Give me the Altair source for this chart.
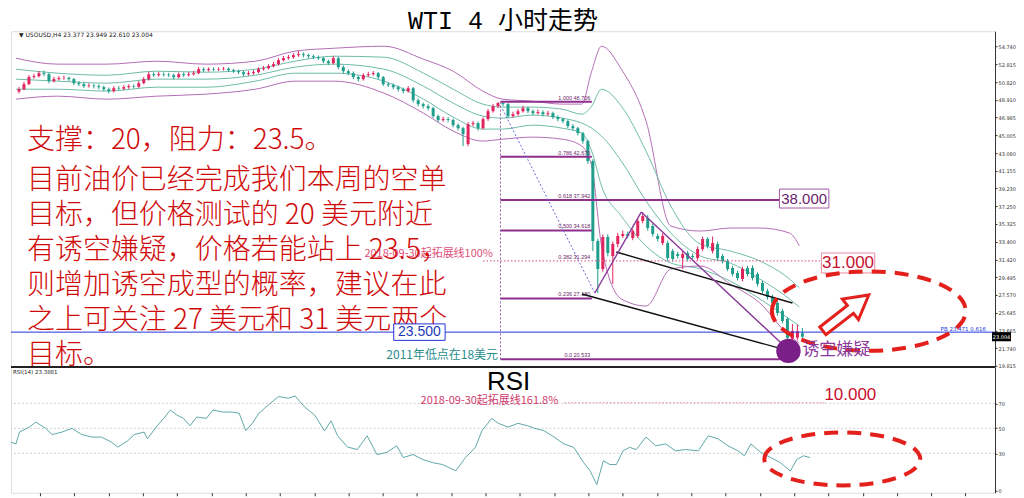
import altair as alt
import pandas as pd

# ---------------- data ----------------
opens = [49.80, 50.06, 50.61, 51.38, 51.48, 51.81, 51.70, 50.94, 51.16, 51.27,
         51.30, 51.16, 50.72, 50.61, 50.39, 50.45, 50.39, 50.28, 50.06, 49.85,
         50.17, 50.12, 50.28, 50.39, 50.33, 50.72, 51.16, 51.70, 51.59, 51.70,
         51.65, 51.59, 51.38, 51.70, 51.59, 51.70, 51.81, 52.25, 52.14, 52.25,
         52.20, 52.25, 52.30, 52.14, 52.03, 51.92, 51.70, 51.81, 51.92, 52.25,
         52.36, 52.58, 52.80, 53.23, 53.45, 53.56, 53.78, 53.89, 53.78, 53.67,
         53.56, 53.45, 53.12, 52.91, 53.45, 52.47, 52.03, 51.81, 51.38, 51.16,
         51.59, 51.70, 51.81, 51.38, 50.61, 50.50, 50.28, 50.06, 49.85, 50.17,
         48.86, 48.43, 48.21, 47.99, 47.12, 46.68, 46.79, 46.70, 46.13, 45.80,
         44.06, 46.24, 46.35, 45.80, 46.79, 47.66, 48.21, 48.54, 48.43, 47.12,
         47.33, 47.66, 47.99, 47.66, 47.44, 47.55, 47.33, 47.44, 47.01, 46.79,
         46.57, 46.02, 45.80, 45.26, 44.39, 42.20, 33.46, 30.40, 33.90, 31.82,
         33.13, 34.01, 34.23, 33.79, 34.01, 35.65, 35.97, 35.10, 34.01, 33.24,
         33.24, 32.37, 32.04, 31.60, 32.15, 31.82, 31.60, 32.59, 33.68, 32.37,
         33.13, 31.82, 31.28, 30.51, 29.97, 29.31, 30.51, 30.51, 29.86, 28.87,
         28.00, 27.34, 26.69, 25.82, 24.94, 22.76, 22.90, 23.38]
closes = [50.06, 50.61, 51.38, 51.48, 51.81, 51.70, 50.94, 51.16, 51.27, 51.30,
          51.16, 50.72, 50.61, 50.39, 50.45, 50.39, 50.28, 50.06, 49.85, 50.17,
          50.12, 50.28, 50.39, 50.33, 50.72, 51.16, 51.70, 51.59, 51.70, 51.65,
          51.59, 51.38, 51.70, 51.59, 51.70, 51.81, 52.25, 52.14, 52.25, 52.20,
          52.25, 52.30, 52.14, 52.03, 51.92, 51.70, 51.81, 51.92, 52.25, 52.36,
          52.58, 52.80, 53.23, 53.45, 53.56, 53.78, 53.89, 53.78, 53.67, 53.56,
          53.45, 53.12, 52.91, 53.45, 52.47, 52.03, 51.81, 51.38, 51.16, 51.59,
          51.70, 51.81, 51.38, 50.61, 50.50, 50.28, 50.06, 49.85, 50.17, 48.86,
          48.43, 48.21, 47.99, 47.12, 46.68, 46.79, 46.70, 46.13, 45.80, 45.15,
          46.24, 46.35, 45.80, 46.79, 47.66, 48.21, 48.54, 48.43, 47.12, 47.33,
          47.66, 47.99, 47.66, 47.44, 47.55, 47.33, 47.44, 47.01, 46.79, 46.57,
          46.02, 45.80, 45.26, 44.39, 42.20, 33.46, 30.40, 33.90, 32.15, 33.13,
          34.01, 34.23, 34.01, 34.55, 35.65, 36.19, 34.88, 34.23, 33.68, 34.01,
          31.60, 31.50, 31.82, 32.04, 31.50, 31.71, 32.59, 33.68, 32.92, 33.24,
          31.60, 31.28, 30.40, 29.86, 29.42, 30.40, 29.86, 29.42, 28.77, 28.00,
          27.34, 26.69, 25.60, 24.72, 22.87, 23.63, 23.60, 23.00]
highs = [50.30, 50.85, 51.60, 51.75, 52.05, 52.10, 51.85, 51.40, 51.50, 51.55,
         51.45, 51.30, 50.95, 50.80, 50.70, 50.65, 50.60, 50.45, 50.25, 50.40,
         50.40, 50.50, 50.60, 50.60, 50.95, 51.40, 51.95, 51.90, 51.95, 51.90,
         51.85, 51.75, 51.90, 51.90, 51.95, 52.05, 52.50, 52.45, 52.45, 52.45,
         52.45, 52.50, 52.45, 52.30, 52.20, 52.05, 52.05, 52.15, 52.45, 52.60,
         52.80, 53.05, 53.45, 53.70, 53.80, 54.00, 54.25, 54.10, 53.95, 53.85,
         53.75, 53.60, 53.30, 53.70, 53.60, 52.65, 52.20, 52.00, 51.55, 51.80,
         51.95, 52.05, 51.95, 51.50, 50.80, 50.70, 50.45, 50.25, 50.40, 50.30,
         49.05, 48.60, 48.40, 48.15, 47.30, 47.05, 47.00, 46.85, 46.30, 45.95,
         46.45, 46.60, 46.50, 47.00, 47.90, 48.45, 48.68, 48.70, 48.55, 47.60,
         47.90, 48.25, 48.15, 47.85, 47.85, 47.75, 47.70, 47.60, 47.20, 46.95,
         46.70, 46.25, 45.95, 45.40, 44.55, 42.40, 33.70, 34.20, 34.20, 33.40,
         34.35, 34.60, 34.50, 34.80, 35.90, 36.63, 36.30, 35.35, 34.25, 34.30,
         33.50, 32.60, 32.30, 32.35, 32.40, 32.10, 32.85, 33.95, 33.90, 33.95,
         33.40, 32.05, 31.50, 30.75, 30.20, 30.65, 30.75, 30.80, 30.05, 29.10,
         28.25, 27.60, 26.90, 26.05, 25.15, 24.40, 24.30, 23.95]
lows = [49.60, 49.95, 50.50, 51.20, 51.35, 51.50, 50.70, 50.80, 51.00, 51.10,
        50.95, 50.50, 50.40, 50.20, 50.25, 50.15, 50.05, 49.85, 49.60, 49.70,
        49.95, 49.95, 50.10, 50.15, 50.20, 50.60, 51.00, 51.40, 51.45, 51.45,
        51.40, 51.15, 51.25, 51.40, 51.45, 51.55, 51.70, 51.95, 52.00, 52.05,
        52.05, 52.10, 51.95, 51.85, 51.70, 51.45, 51.55, 51.65, 51.80, 52.10,
        52.20, 52.45, 52.65, 53.10, 53.30, 53.40, 53.60, 53.55, 53.45, 53.35,
        53.25, 52.90, 52.70, 52.75, 52.25, 51.80, 51.60, 51.15, 50.90, 51.00,
        51.40, 51.55, 51.15, 50.40, 50.30, 50.05, 49.80, 49.60, 49.70, 48.60,
        48.20, 47.95, 47.75, 46.90, 46.45, 46.50, 46.45, 45.90, 45.55, 43.84,
        43.84, 46.00, 45.55, 45.65, 46.60, 47.50, 48.00, 48.20, 46.90, 46.95,
        47.15, 47.50, 47.45, 47.20, 47.30, 47.10, 47.15, 46.80, 46.55, 46.35,
        45.80, 45.55, 45.00, 44.10, 41.90, 32.37, 27.78, 30.10, 31.80, 28.77,
        32.80, 33.80, 33.75, 33.55, 33.80, 35.40, 34.60, 33.95, 33.40, 33.00,
        31.30, 31.20, 31.55, 30.40, 31.25, 31.45, 31.35, 32.35, 32.65, 32.10,
        31.30, 31.00, 30.15, 29.60, 29.15, 29.05, 29.60, 29.15, 28.50, 27.75,
        27.05, 26.40, 25.30, 24.45, 20.60, 21.45, 22.60, 22.61]

# Bollinger / envelope bands read at knots (bar index)
band_idx = [-0.6, 7.73, 17.64, 27.55, 37.46, 47.37, 55.30, 63.23, 73.14, 81.07,
            87.02, 92.96, 96.93, 102.87, 108.82, 112.78, 114.77, 116.75, 120.71,
            125.67, 130.63, 136.57, 142.52, 148.46, 154.41, 156.39]
bb_upper = [53.45, 52.80, 52.80, 53.12, 52.80, 53.12, 54.22, 54.54, 54.76, 53.34,
            52.03, 49.85, 48.97, 48.75, 48.43, 48.43, 52.03, 54.76, 52.25, 46.57,
            35.10, 34.55, 34.88, 34.88, 34.34, 32.92]
env_upper = [52.25, 51.81, 51.59, 52.03, 51.92, 52.25, 53.12, 53.67, 53.56, 51.81,
             50.06, 48.43, 48.10, 48.10, 47.88, 47.33, 48.21, 50.06, 48.21, 43.29,
             37.28, 33.13, 32.37, 31.28, 29.31, 28.33]
mid_line = [51.16, 50.94, 50.72, 51.16, 51.16, 51.59, 52.47, 52.80, 52.25, 50.39,
            48.54, 47.12, 46.90, 47.23, 46.90, 46.35, 45.80, 44.93, 42.20, 37.83,
            34.34, 31.82, 31.06, 29.31, 27.13, 26.25]
env_lower = [50.06, 50.06, 49.85, 50.28, 50.28, 50.94, 51.81, 51.81, 50.94, 48.97,
             47.01, 45.70, 45.70, 46.13, 45.80, 45.26, 43.29, 39.47, 36.19, 32.92,
             31.06, 30.40, 29.09, 27.13, 24.94, 24.18]
bb_lower = [48.97, 49.30, 48.97, 49.30, 49.52, 50.06, 50.94, 50.94, 49.63, 47.44,
            45.48, 44.39, 44.60, 44.82, 44.60, 43.84, 41.65, 32.92, 27.13, 26.36,
            30.40, 30.73, 28.77, 26.69, 23.08, 22.32]

rsi_idx = [-0.6, 0.4, 1.07, 3.03, 4.33, 6.28, 7.58, 9.53, 11.48, 13.44,
           15.39, 17.34, 19.29, 20.59, 22.55, 23.85, 25.80, 26.45, 28.40, 29.70,
           31.01, 32.31, 33.61, 34.91, 36.21, 38.16, 39.46, 41.42, 43.37, 44.67,
           45.97, 47.27, 48.57, 50.53, 52.48, 54.43, 55.73, 57.68, 59.64, 61.59,
           62.89, 64.19, 66.14, 68.10, 70.05, 72.00, 73.95, 75.90, 77.21, 79.16,
           81.11, 83.06, 85.01, 87.62, 89.57, 91.52, 92.82, 94.77, 96.08, 98.03,
           99.98, 101.93, 103.23, 105.19, 107.14, 109.09, 111.04, 113.00, 114.30, 115.60,
           116.90, 118.20, 119.50, 120.80, 122.11, 123.41, 125.36, 127.31, 129.26, 131.21,
           133.17, 135.77, 137.72, 139.67, 141.62, 143.58, 144.88, 146.18, 148.13, 150.08,
           152.04, 153.99, 155.29, 156.59, 157.89]
rsi_val = [38.9, 37.5, 47, 51, 55, 50, 45, 47, 50, 45,
           43, 43, 39, 35, 40, 45, 47, 41.6, 52, 58,
           64.7, 60.6, 58, 52, 59, 58, 64.7, 63, 63, 62,
           48, 54, 62, 69, 75.5, 74, 76, 67, 60.6, 48,
           56, 44, 35, 33, 44, 29, 30.7, 36, 26.6, 29,
           25, 22.5, 21, 16, 26.6, 34.8, 48, 58, 54, 51,
           54, 52, 50, 48, 43, 37.5, 34.8, 22.5, 15.8, 4.9,
           24, 21, 21, 32, 34.8, 33, 43, 36, 37.5, 32,
           33, 32, 44, 41.6, 36, 32, 28, 37.5, 30.7, 26.6,
           22.5, 15.8, 25, 28, 26.6]

price_ticks = [54.740, 52.815, 50.820, 48.910, 46.985, 45.005, 43.080, 41.155, 39.230,
               37.250, 35.325, 33.400, 31.420, 29.495, 27.570, 25.645, 23.665, 21.740, 19.815]
rsi_ticks = [0, 30, 50, 70, 100]
rsi_levels = [30, 50, 70]

fib_labels = ["1.000  48.706", "0.786  42.670", "0.618  37.942", "0.500  34.618",
              "0.236  27.180", "0.0  20.533"]
fib_price = [48.70, 42.67, 37.942, 34.618, 27.18, 20.533]
fib_end = [114.8, 114.8, 152.4, 114.8, 114.8, 152.6]
fib_start = 96.5

note_lines = ["支撑：20，阻力：23.5。",
              "目前油价已经完成我们本周的空单",
              "目标，但价格测试的 20 美元附近",
              "有诱空嫌疑，价格若能站上 23.5，",
              "则增加诱空成型的概率，建议在此",
              "之上可关注 27 美元和 31 美元两个",
              "目标。"]
note_price = [44.39, 40.02, 36.19, 32.37, 28.55, 24.72, 20.90]

# ---------------- styling ----------------
W = 985
H_MAIN = 336
H_RSI = 126
UP = "#e0245e"
DOWN = "#1f9e8c"
PURPLE = "#8e2f8e"
CJK = "Noto Sans CJK SC"
RED = "#d00a0a"

xs = alt.Scale(domain=[-0.6, 194.6], nice=False, zero=False)
ys = alt.Scale(domain=[19.7, 56.4], nice=False, zero=False)
rs = alt.Scale(domain=[-1.6, 99.2], nice=False, zero=False)

MAIN_YAXIS = alt.Axis(orient="right", values=price_ticks, format=".3f", labelFontSize=5,
                      labelColor="#333", tickSize=2, tickColor="#333", domainColor="#333",
                      grid=False, labelPadding=1, labelFont="DejaVu Sans", title=None)
RSI_YAXIS = alt.Axis(orient="right", values=rsi_ticks, format="d", labelFontSize=5,
                     labelColor="#333", tickSize=2, tickColor="#333", domainColor="#333",
                     grid=False, labelPadding=1, labelFont="DejaVu Sans", title=None)
x_ticks = [5.15 + 6.8 * k for k in range(28)]
RSI_XAXIS = alt.Axis(values=x_ticks, labels=False, ticks=True, tickSize=3, tickColor="#333",
                     domain=False, grid=False, title=None)


def X(f):
    return alt.X(f, type="quantitative", scale=xs, axis=None)


def XR(f):
    return alt.X(f, type="quantitative", scale=xs, axis=RSI_XAXIS)


def Y(f):
    return alt.Y(f, type="quantitative", scale=ys, axis=MAIN_YAXIS)


def R(f):
    return alt.Y(f, type="quantitative", scale=rs, axis=RSI_YAXIS)


candles = pd.DataFrame({"i": list(range(len(closes))), "open": opens, "close": closes,
                        "high": highs, "low": lows})
candle_color = alt.condition("datum.close >= datum.open", alt.value(UP), alt.value(DOWN))

bands = pd.DataFrame({"i": band_idx, "bb_upper": bb_upper, "env_upper": env_upper,
                      "mid": mid_line, "env_lower": env_lower, "bb_lower": bb_lower})
bands_long = bands.melt("i", var_name="band", value_name="price")

band_layer = alt.Chart(bands_long).mark_line(strokeWidth=1, interpolate="monotone").encode(
    x=X("i"), y=Y("price"), detail="band:N",
    color=alt.Color("band:N", legend=None,
                    scale=alt.Scale(domain=["bb_upper", "env_upper", "mid", "env_lower", "bb_lower"],
                                    range=["#b46cb4", "#6dbba9", "#6dbba9", "#6dbba9", "#b46cb4"])),
)

wicks = alt.Chart(candles).mark_rule(strokeWidth=1).encode(
    x=X("i"), y=Y("low"), y2="high:Q", color=candle_color)
bodies = alt.Chart(candles).mark_bar(size=3).encode(
    x=X("i"), y=Y("open"), y2="close:Q", color=candle_color)

fib_df = pd.DataFrame({"x1": [fib_start] * len(fib_price), "x2": fib_end, "y": fib_price,
                       "label": fib_labels, "lx": [114.5] * len(fib_price),
                       "ly": [p + 0.45 for p in fib_price]})
fib_lines = alt.Chart(fib_df).mark_rule(color=PURPLE, strokeWidth=2).encode(
    x=X("x1"), x2="x2:Q", y=Y("y"))
fib_text = alt.Chart(fib_df).mark_text(align="right", fontSize=5.5, color="#6b2a6b").encode(
    x=X("lx"), y=Y("ly"), text="label:N")

ext_df = pd.DataFrame({"x1": [93.0], "x2": [160.5], "y": [31.29]})
ext_line = alt.Chart(ext_df).mark_rule(color="#e26a95", strokeWidth=1.2, strokeDash=[1.5, 2]).encode(
    x=X("x1"), x2="x2:Q", y=Y("y"))
ext_lbl = pd.DataFrame({"x": [114.5], "y": [31.74], "t": ["0.382  31.294"]})
ext_lbl_text = alt.Chart(ext_lbl).mark_text(align="right", fontSize=5.5, color="#6b2a6b").encode(
    x=X("x"), y=Y("y"), text="t:N")

blue_line = alt.Chart(pd.DataFrame({"y": [23.5]})).mark_rule(color="#2233dd", strokeWidth=1).encode(
    y=Y("y"))

seg_df = pd.DataFrame({
    "x1": [112.8, 119.7, 115.4, 124.7],
    "y1": [27.67, 32.26, 27.78, 36.63],
    "x2": [154.4, 155.0, 124.7, 153.8],
    "y2": [21.45, 26.69, 36.63, 21.77],
    "col": ["#111111", "#111111", "#8a3a9a", "#8a3a9a"],
})
segs = alt.Chart(seg_df).mark_rule(strokeWidth=1.4).encode(
    x=X("x1"), y=Y("y1"), x2="x2:Q", y2="y2:Q", color=alt.Color("col:N", scale=None))

dot_df = pd.DataFrame({"x1": [96.5, 96.9], "y1": [48.70, 47.88], "x2": [96.5, 115.4],
                       "y2": [20.533, 27.78], "col": ["#9b59b6", "#6a6ad8"]})
dots = alt.Chart(dot_df).mark_rule(strokeWidth=1, strokeDash=[2, 2]).encode(
    x=X("x1"), y=Y("y1"), x2="x2:Q", y2="y2:Q", color=alt.Color("col:N", scale=None))

note_df = pd.DataFrame({"t": note_lines, "y": note_price, "x": [1.6] * len(note_lines)})
notes = alt.Chart(note_df).mark_text(align="left", baseline="middle", fontSize=28, font=CJK,
                                     fontWeight=300, color=RED).encode(
    x=X("x"), y=Y("y"), text="t:N")

small_df = pd.DataFrame({
    "x": [82.1, 96.0],
    "y": [32.04, 21.0],
    "t": ["2018-09-30起拓展线100%", "2011年低点在18美元"],
    "col": ["#e0507a", "#2b8c8c"],
})
small_txt1 = alt.Chart(small_df.iloc[[0]]).mark_text(align="center", fontSize=11, font=CJK).encode(
    x=X("x"), y=Y("y"), text="t:N", color=alt.Color("col:N", scale=None))
small_txt2 = alt.Chart(small_df.iloc[[1]]).mark_text(align="right", fontSize=12, font=CJK).encode(
    x=X("x"), y=Y("y"), text="t:N", color=alt.Color("col:N", scale=None))

box_df = pd.DataFrame({
    "x1": [152.4, 160.8, 75.1], "x2": [162.3, 171.5, 85.4],
    "y1": [39.14, 32.15, 24.4], "y2": [37.07, 29.97, 22.6],
    "col": ["#a05aa8", "#e88aa0", "#2233dd"],
    "tx": [157.35, 166.15, 80.25], "ty": [38.1, 31.06, 23.5],
    "t": ["38.000", "31.000", "23.500"],
    "tc": ["#6b1f6b", "#c8102e", "#1c39bb"],
})
boxes = alt.Chart(box_df).mark_rect(fill="white", strokeWidth=1).encode(
    x=X("x1"), x2="x2:Q", y=Y("y1"), y2="y2:Q", stroke=alt.Stroke("col:N", scale=None))
box_text_a = alt.Chart(box_df.iloc[[0]]).mark_text(fontSize=15, font="Liberation Sans").encode(
    x=X("tx"), y=Y("ty"), text="t:N", color=alt.Color("tc:N", scale=None))
box_text_b = alt.Chart(box_df.iloc[[1]]).mark_text(fontSize=17, font="Liberation Sans").encode(
    x=X("tx"), y=Y("ty"), text="t:N", color=alt.Color("tc:N", scale=None))
box_text_c = alt.Chart(box_df.iloc[[2]]).mark_text(fontSize=14, font="Liberation Sans").encode(
    x=X("tx"), y=Y("ty"), text="t:N", color=alt.Color("tc:N", scale=None))

ELL_MAIN = ("M -1 0 C -1 -0.226 -0.552 -0.41 0 -0.41 C 0.552 -0.41 1 -0.226 1 0 "
            "C 1 0.226 0.552 0.41 0 0.41 C -0.552 0.41 -1 0.226 -1 0 Z")
ELL_RSI = ("M -1 0 C -1 -0.188 -0.552 -0.34 0 -0.34 C 0.552 -0.34 1 -0.188 1 0 "
           "C 1 0.188 0.552 0.34 0 0.34 C -0.552 0.34 -1 0.188 -1 0 Z")
ARROW = "M -1 -0.17 L 0.2 -0.17 L 0.2 -0.45 L 1 0 L 0.2 0.45 L 0.2 0.17 L -1 0.17 Z"

ell_df = pd.DataFrame({"x": [170.3], "y": [25.8]})
ellipse = alt.Chart(ell_df).mark_point(shape=ELL_MAIN, size=37636, filled=False, color="#e3201b",
                                       strokeWidth=4, strokeDash=[14, 9], opacity=1).encode(
    x=X("x"), y=Y("y"))
arrow_df = pd.DataFrame({"x": [165.7], "y": [25.6]})
arrow = alt.Chart(arrow_df).mark_point(shape=ARROW, size=3400, angle=322, filled=True, fill="white",
                                       stroke="#e3201b", strokeWidth=3, opacity=1).encode(
    x=X("x"), y=Y("y"))
circ_df = pd.DataFrame({"x": [154.2], "y": [21.45]})
circle = alt.Chart(circ_df).mark_point(shape="circle", size=600, filled=True, color="#7a1f88",
                                       opacity=1).encode(x=X("x"), y=Y("y"))
lure_df = pd.DataFrame({"x": [157.0], "y": [21.6], "t": ["诱空嫌疑"]})
lure = alt.Chart(lure_df).mark_text(align="left", fontSize=17, font=CJK, color="#8b3a9b").encode(
    x=X("x"), y=Y("y"), text="t:N")

hdr_df = pd.DataFrame({"x": [0.0], "y": [55.95], "t": ["▼ USOUSD,H4  23.377 23.949 22.610 23.004"]})
hdr = alt.Chart(hdr_df).mark_text(align="left", fontSize=6, font="DejaVu Sans", color="#222").encode(
    x=X("x"), y=Y("y"), text="t:N")
pb_df = pd.DataFrame({"x": [193.8], "y": [23.85], "t": ["PB 23.471  0.616"]})
pb = alt.Chart(pb_df).mark_text(align="right", fontSize=5.5, font="DejaVu Sans", color="#2233dd").encode(
    x=X("x"), y=Y("y"), text="t:N")

cur_df = pd.DataFrame({"x1": [195.0], "x2": [198.8], "y1": [23.5], "y2": [22.5], "tx": [196.9],
                       "ty": [23.0], "t": ["23.004"]})
cur_box = alt.Chart(cur_df).mark_rect(color="black").encode(
    x=X("x1"), x2="x2:Q", y=Y("y1"), y2="y2:Q")
cur_txt = alt.Chart(cur_df).mark_text(fontSize=5, color="white", font="DejaVu Sans").encode(
    x=X("tx"), y=Y("ty"), text="t:N")

main = alt.layer(
    band_layer, wicks, bodies, blue_line, fib_lines, fib_text, ext_line, ext_lbl_text,
    dots, segs, small_txt1, small_txt2, notes, boxes, box_text_a, box_text_b, box_text_c,
    ellipse, arrow, circle, lure, hdr, pb, cur_box, cur_txt,
).properties(
    width=W, height=H_MAIN,
    title=alt.TitleParams("WTI 4 小时走势", font="Liberation Mono, Noto Sans CJK SC", fontSize=25,
                          fontWeight="normal", color="#000", offset=-3, anchor="middle"),
)

# ---------------- RSI panel ----------------
rsi_df = pd.DataFrame({"i": rsi_idx, "rsi": rsi_val})

rsi_grid = alt.Chart(pd.DataFrame({"lv": rsi_levels})).mark_rule(
    color="#cfcfcf", strokeDash=[2, 2], strokeWidth=1).encode(y=R("lv"))
rsi_line = alt.Chart(rsi_df).mark_line(color="#5fa8a8", strokeWidth=1).encode(
    x=XR("i"), y=R("rsi"))
rsi_txt_df = pd.DataFrame({"x": [98.1], "y": [87.0], "t": ["RSI"]})
rsi_big = alt.Chart(rsi_txt_df).mark_text(fontSize=26, font="Liberation Sans", color="#000").encode(
    x=XR("x"), y=R("y"), text="t:N")
ext2_df = pd.DataFrame({"x": [94.3], "y": [71.5], "t": ["2018-09-30起拓展线161.8%"],
                        "x1": [109.2], "x2": [160.8], "ly": [70.5]})
ext2_txt = alt.Chart(ext2_df).mark_text(fontSize=11, font=CJK, color="#d03a6a").encode(
    x=XR("x"), y=R("y"), text="t:N")
ext2_line = alt.Chart(ext2_df).mark_rule(color="#e28aa8", strokeWidth=1.2, strokeDash=[1.5, 2]).encode(
    x=XR("x1"), x2="x2:Q", y=R("ly"))
ten_df = pd.DataFrame({"x": [165.9], "y": [77.0], "t": ["10.000"]})
ten = alt.Chart(ten_df).mark_text(fontSize=17, font="Liberation Sans", color="#c8102e").encode(
    x=XR("x"), y=R("y"), text="t:N")
rsi_hdr_df = pd.DataFrame({"x": [-0.2], "y": [95.0], "t": ["RSI(14) 23.3881"]})
rsi_hdr = alt.Chart(rsi_hdr_df).mark_text(align="left", fontSize=5.5, font="DejaVu Sans",
                                          color="#222").encode(x=XR("x"), y=R("y"), text="t:N")
rsi_ell_df = pd.DataFrame({"x": [164.3], "y": [25.5]})
rsi_ell = alt.Chart(rsi_ell_df).mark_point(shape=ELL_RSI, size=24336, filled=False, color="#e3201b",
                                           strokeWidth=4, strokeDash=[14, 9], opacity=1).encode(
    x=XR("x"), y=R("y"))
sep = alt.Chart(pd.DataFrame({"a": [0]})).mark_rule(color="#222", strokeWidth=2).encode(
    x=alt.value(0), x2=alt.value(W), y=alt.value(0))

rsi = alt.layer(rsi_grid, rsi_line, rsi_big, ext2_line, ext2_txt, ten, rsi_hdr, rsi_ell, sep).properties(
    width=W, height=H_RSI)

chart = alt.vconcat(main, rsi, spacing=0, bounds="flush").properties(
    padding={"left": 0, "top": 0, "right": 0, "bottom": 0}
).configure_view(stroke="#999", strokeWidth=1).configure(background="white")

chart.save("out.html", embed_options={"renderer": "svg", "actions": False})
